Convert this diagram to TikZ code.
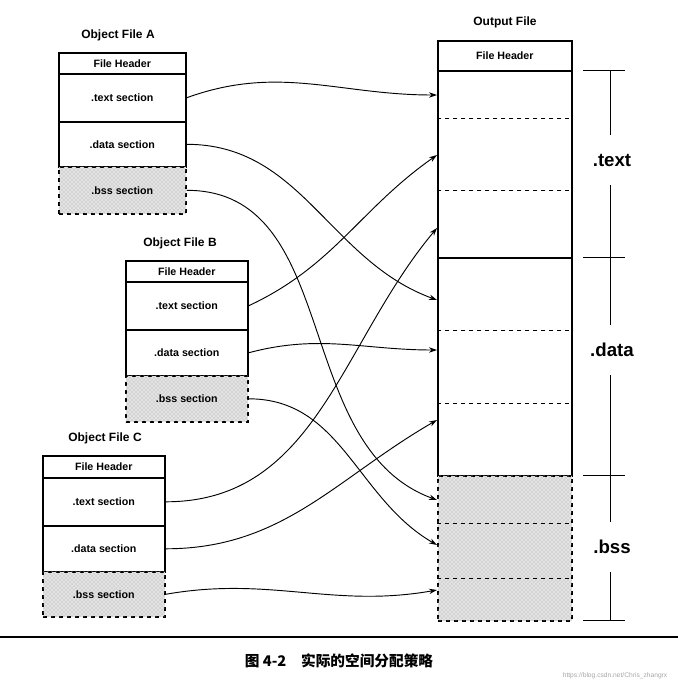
\documentclass[tikz,border=0pt]{standalone}
\usepackage{fontspec}
\setmainfont{Liberation Sans}
\newfontfamily\cjk{Noto Sans CJK SC}
\usetikzlibrary{patterns,arrows.meta}
\begin{document}
\begin{tikzpicture}[x=0.75pt,y=-0.75pt,
  row/.style={draw,line width=1.2pt,font=\bfseries\fontsize{8}{9}\selectfont,inner sep=0pt,anchor=north west},
  bssrow/.style={row,dashed,fill=gray!22,postaction={pattern=crosshatch dots,pattern color=gray!70}},
  title/.style={font=\bfseries\fontsize{9}{10}\selectfont},
  arr/.style={-{Stealth[length=6pt,width=4pt]},line width=0.7pt},
  sep/.style={dashed,line width=0.5pt}]
\useasboundingbox (0,0) rectangle (678,696);
% Object File A
\node[title] (ta) at (118,35) {Object File A};
\node[row,minimum width=127*0.75pt,minimum height=21*0.75pt] (ah) at (58,52) {File Header};
\node[row,minimum width=127*0.75pt,minimum height=48*0.75pt] (at) at (58,73) {.text section};
\node[row,minimum width=127*0.75pt,minimum height=45*0.75pt] (ad) at (58,121) {.data section};
\node[bssrow,minimum width=127*0.75pt,minimum height=47*0.75pt] (ab) at (58,166) {.bss section};
% Object File B
\node[title] (tb) at (180,243) {Object File B};
\node[row,minimum width=122*0.75pt,minimum height=21*0.75pt] (bh) at (125,260) {File Header};
\node[row,minimum width=122*0.75pt,minimum height=48*0.75pt] (bt) at (125,281) {.text section};
\node[row,minimum width=122*0.75pt,minimum height=46*0.75pt] (bd) at (125,329) {.data section};
\node[bssrow,minimum width=122*0.75pt,minimum height=46*0.75pt] (bb) at (125,375) {.bss section};
% Object File C
\node[title] (tc) at (105,438) {Object File C};
\node[row,minimum width=122*0.75pt,minimum height=22*0.75pt] (ch) at (42,455) {File Header};
\node[row,minimum width=122*0.75pt,minimum height=48*0.75pt] (ct) at (42,477) {.text section};
\node[row,minimum width=122*0.75pt,minimum height=46*0.75pt] (cd) at (42,525) {.data section};
\node[bssrow,minimum width=122*0.75pt,minimum height=45*0.75pt] (cb) at (42,571) {.bss section};
% Output file
\node[title] (to) at (505,22) {Output File};
\node[row,minimum width=134*0.75pt,minimum height=30*0.75pt] (oh) at (437,40) {File Header};
\node[row,minimum width=134*0.75pt,minimum height=187*0.75pt] (ot) at (437,70) {};
\node[row,minimum width=134*0.75pt,minimum height=218*0.75pt] (od) at (437,257) {};
\node[bssrow,minimum width=134*0.75pt,minimum height=145*0.75pt] (ob) at (437,475) {};
\foreach \y in {118,190,330,403,523,578} \draw[sep] (437,\y) -- (571,\y);
% targets
\foreach \n/\y in {t1/95,t2/155,t3/228,d1/300,d2/350,d3/420,b1/500,b2/545,b3/590}
  \coordinate (\n) at (437,\y);
% brackets
\foreach \y in {70,257,475,620} \draw[line width=0.6pt] (583,\y) -- (625,\y);
\draw[line width=0.6pt] (610,70) -- (610,135) (610,185) -- (610,325) (610,375) -- (610,522) (610,572) -- (610,620);
\node[font=\bfseries\fontsize{14}{16}\selectfont] (lt) at (612,160) {.text};
\node[font=\bfseries\fontsize{14}{16}\selectfont] (ld) at (612,350) {.data};
\node[font=\bfseries\fontsize{14}{16}\selectfont] (lb) at (612,547) {.bss};
% arrows
\draw[arr] (at.east) to[out=20,in=180] (t1);
\draw[arr] (ad.east) to[out=0,in=160] (d1);
\draw[arr] (ab.east) to[out=0,in=160] (b1);
\draw[arr] (bt.east) to[out=25,in=215] (t2);
\draw[arr] (bd.east) to[out=15,in=180] (d2);
\draw[arr] (bb.east) to[out=0,in=150] (b2);
\draw[arr] (ct.east) to[out=0,in=230] (t3);
\draw[arr] (cd.east) to[out=0,in=210] (d3);
\draw[arr] (cb.east) to[out=10,in=190] (b3);
% caption
\draw[line width=0.8pt] (0,637) -- (678,637);
\node[font=\cjk\bfseries\fontsize{11}{13}\selectfont] (cap) at (339,661) {图 4-2\quad 实际的空间分配策略};
\node[font=\fontsize{5}{6}\selectfont,text=gray!70,anchor=east] (wm) at (672,676) {https://blog.csdn.net/Chris\_zhangrx};
\end{tikzpicture}
\end{document}
